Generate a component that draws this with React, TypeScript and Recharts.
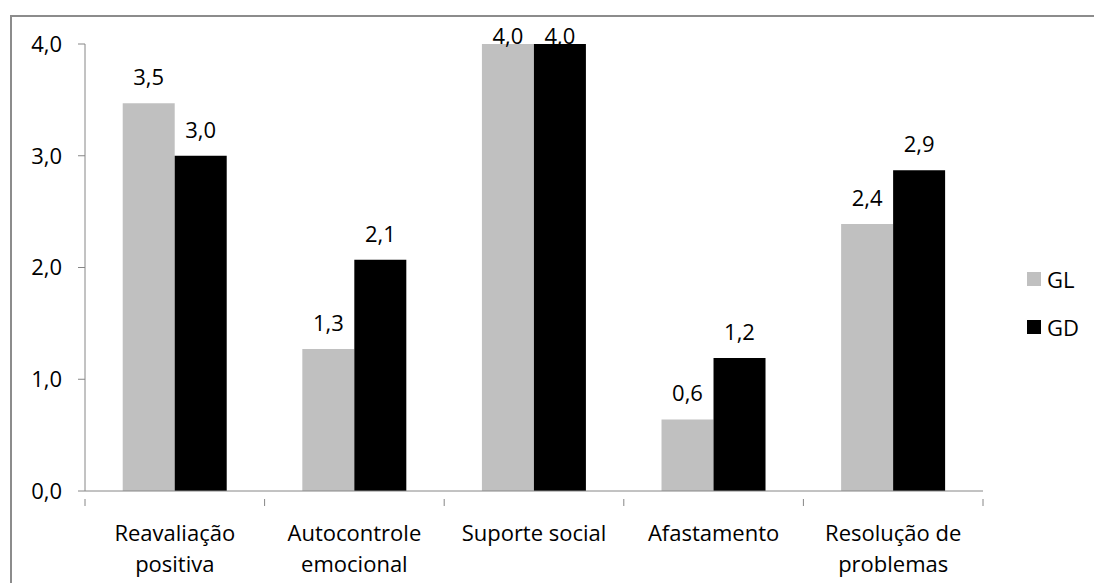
// Coping strategies by group — grouped bars, GL vs GD, Excel-ish styling.
import { Bar, BarChart, LabelList, XAxis, YAxis } from 'recharts';

const categories = [
  'Reavaliação\npositiva',
  'Autocontrole\nemocional',
  'Suporte social',
  'Afastamento',
  'Resolução de\nproblemas',
];
const gl = [3.47, 1.27, 4.0, 0.64, 2.39];
const gd = [3.0, 2.07, 4.0, 1.19, 2.87];
const yTicks = [0, 1, 2, 3, 4];
const series = [
  { key: 'GL', color: '#C0C0C0' },
  { key: 'GD', color: '#000000' },
];

const AXIS = '#868686';
const FONT = '"Open Sans", "Noto Sans", sans-serif';
const FS = 22;

const W = 1094;
const H = 583;
const M = { top: 44, right: 111, left: 0, bottom: 0 };
const Y_W = 85;
const X_H = 92;
const BAND = (W - M.left - Y_W - M.right) / categories.length;

const data = categories.map((c, i) => ({ cat: c, GL: gl[i], GD: gd[i] }));
const fmt = (v: number) => v.toFixed(1).replace('.', ',');

function CatTick(props: any) {
  const { x, y, payload, index } = props;
  const lines = String(payload.value).split('\n');
  return (
    <g>
      <line x1={x - BAND / 2} x2={x - BAND / 2} y1={y} y2={y + 7} stroke={AXIS} />
      {index === categories.length - 1 && (
        <line x1={x + BAND / 2} x2={x + BAND / 2} y1={y} y2={y + 7} stroke={AXIS} />
      )}
      <text x={x} y={y + 42} textAnchor="middle" fontSize={FS} fill="#000" fontFamily={FONT}>
        {lines.map((l, i) => (
          <tspan key={i} x={x} dy={i === 0 ? 0 : 31}>{l}</tspan>
        ))}
      </text>
    </g>
  );
}

function ValueLabel(props: any) {
  const { x, y, width, value } = props;
  const ty = Math.max(y - 18, 44);
  return (
    <text x={x + width / 2} y={ty} textAnchor="middle" fontSize={FS} fill="#000" fontFamily={FONT}>
      {fmt(value)}
    </text>
  );
}

export default function App() {
  return (
    <div style={{ position: 'fixed', left: 0, top: 0, width: W, height: H, background: '#fff' }}>
      <div
        style={{
          position: 'absolute', left: 10, top: 15, width: W, height: H,
          borderLeft: '2px solid #8c8c8c', borderTop: '2px solid #8c8c8c',
        }}
      />
      <BarChart width={W} height={H} data={data} margin={M} barCategoryGap="21%" barGap={0}
        style={{ position: 'absolute', left: 0, top: 0 }}>
        <XAxis dataKey="cat" height={X_H} interval={0} tickLine={false} stroke={AXIS}
          tick={<CatTick />} />
        <YAxis width={Y_W} domain={[0, 4]} ticks={yTicks} tickFormatter={fmt} stroke={AXIS}
          tickSize={7} tickMargin={16} interval={0}
          tick={{ fontSize: FS, fill: '#000', fontFamily: FONT }} />
        {series.map((s) => (
          <Bar key={s.key} dataKey={s.key} name={s.key} fill={s.color} isAnimationActive={false}>
            <LabelList dataKey={s.key} content={<ValueLabel />} />
          </Bar>
        ))}
      </BarChart>
      <div style={{ position: 'absolute', left: 1027, top: 255, fontFamily: FONT, fontSize: FS }}>
        {series.map((s) => (
          <div key={s.key} style={{ display: 'flex', alignItems: 'center', height: 48 }}>
            <span style={{ width: 14, height: 14, background: s.color, marginRight: 6, display: 'inline-block' }} />
            <span>{s.key}</span>
          </div>
        ))}
      </div>
    </div>
  );
}
